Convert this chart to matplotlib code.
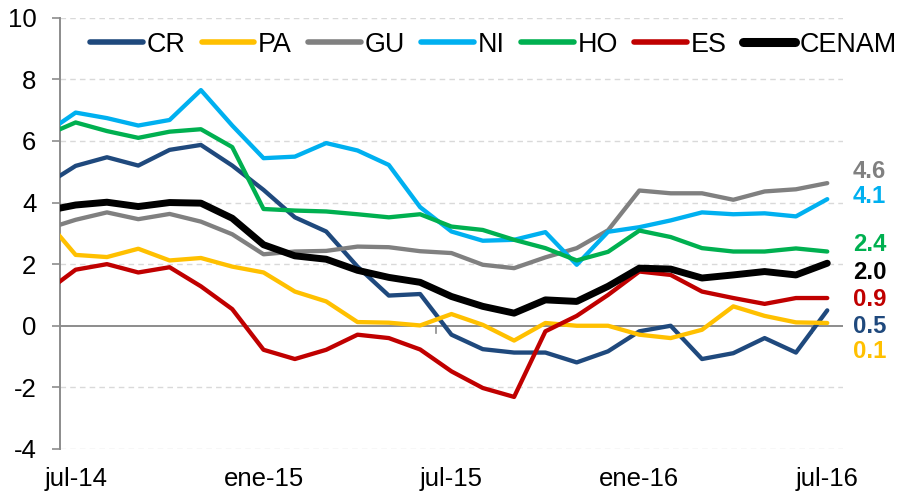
import matplotlib
matplotlib.use("Agg")
import matplotlib.pyplot as plt
import numpy as np

# ---------------- data ----------------
months = ["jun-14", "jul-14", "ago-14", "sep-14", "oct-14", "nov-14", "dic-14",
          "ene-15", "feb-15", "mar-15", "abr-15", "may-15", "jun-15",
          "jul-15", "ago-15", "sep-15", "oct-15", "nov-15", "dic-15",
          "ene-16", "feb-16", "mar-16", "abr-16", "may-16", "jun-16", "jul-16"]
tick_labels = ["jul-14", "ene-15", "jul-15", "ene-16", "jul-16"]

CR = [4.55, 5.19, 5.47, 5.20, 5.71, 5.87, 5.20, 4.41, 3.52, 3.06, 1.92, 0.98, 1.03,
      -0.29, -0.76, -0.87, -0.87, -1.19, -0.83, -0.18, 0.00, -1.08, -0.89, -0.40, -0.87, 0.50]
PA = [3.50, 2.30, 2.23, 2.50, 2.12, 2.20, 1.92, 1.73, 1.11, 0.79, 0.12, 0.10, 0.01,
      0.38, 0.03, -0.48, 0.09, 0.00, 0.00, -0.29, -0.40, -0.13, 0.63, 0.32, 0.11, 0.09]
GU = [3.12, 3.44, 3.68, 3.46, 3.63, 3.38, 2.97, 2.32, 2.41, 2.43, 2.57, 2.55, 2.42,
      2.36, 1.98, 1.87, 2.22, 2.52, 3.10, 4.39, 4.30, 4.30, 4.09, 4.36, 4.43, 4.63]
NI = [6.22, 6.92, 6.74, 6.50, 6.68, 7.65, 6.50, 5.44, 5.49, 5.93, 5.69, 5.22, 3.85,
      3.06, 2.76, 2.79, 3.04, 1.98, 3.05, 3.20, 3.42, 3.68, 3.62, 3.65, 3.55, 4.11]
HO = [6.16, 6.60, 6.32, 6.10, 6.30, 6.38, 5.80, 3.79, 3.74, 3.71, 3.62, 3.52, 3.62,
      3.22, 3.11, 2.79, 2.52, 2.12, 2.40, 3.09, 2.88, 2.52, 2.41, 2.41, 2.51, 2.41]
ES = [1.06, 1.82, 2.00, 1.73, 1.90, 1.28, 0.54, -0.78, -1.08, -0.78, -0.29, -0.40, -0.77,
      -1.48, -2.02, -2.31, -0.18, 0.32, 1.00, 1.76, 1.65, 1.11, 0.90, 0.71, 0.90, 0.90]
CENAM = [3.72, 3.92, 4.01, 3.87, 4.00, 3.98, 3.49, 2.63, 2.27, 2.16, 1.80, 1.57, 1.41,
         0.95, 0.63, 0.41, 0.84, 0.79, 1.28, 1.87, 1.84, 1.55, 1.65, 1.76, 1.65, 2.03]

names = ["CR", "PA", "GU", "NI", "HO", "ES", "CENAM"]
series = [CR, PA, GU, NI, HO, ES, CENAM]
colors = ["#1F497D", "#FFC000", "#808080", "#00B0F0", "#00B050", "#C00000", "#000000"]

# end-label layout (order and vertical positions, data units)
label_order = ["GU", "NI", "HO", "CENAM", "ES", "CR", "PA"]
label_y = [5.00, 4.19, 2.63, 1.73, 0.84, -0.02, -0.84]

# ---------------- plot ----------------
plt.rcParams["font.family"] = ["Liberation Sans", "DejaVu Sans"]

fig = plt.figure(figsize=(9.02, 4.96), dpi=100)
ax = fig.add_axes([0.0665, 0.0948, 0.868, 0.8695])

x = np.arange(len(months)) - 1  # jul-14 -> 0

for i, (name, vals, col) in enumerate(zip(names, series, colors)):
    lw = 5.0 if name == "CENAM" else 3.1
    ax.plot(x, vals, color=col, lw=lw, label=name, zorder=3 + i,
            solid_joinstyle="round", solid_capstyle="round")

ax.set_xlim(-0.5, 24.5)
ax.set_ylim(-4, 10)

# grid
for yv in [-4, -2, 2, 4, 6, 8, 10]:
    ax.axhline(yv, color="#D9D9D9", lw=1.0, ls=(0, (4, 3)), zorder=1)
ax.axhline(0, color="#8C8C8C", lw=1.4, zorder=2)

# spines
for s in ["top", "right", "bottom"]:
    ax.spines[s].set_visible(False)
ax.spines["left"].set_color("#8C8C8C")
ax.spines["left"].set_linewidth(1.4)

ax.set_yticks(np.arange(-4, 11, 2))
ax.set_yticklabels([str(v) for v in range(-4, 11, 2)])
ax.tick_params(axis="y", length=6, width=1.2, color="#8C8C8C", pad=11,
               labelsize=18.5, labelcolor="black")

tick_idx = [months.index(t) - 1 for t in tick_labels]
ax.set_xticks(tick_idx)
ax.set_xticklabels(tick_labels)
ax.tick_params(axis="x", length=0, pad=13, labelsize=18.5, labelcolor="black")

# small tick marks on the zero line
for tx in [11.5, 23.5]:
    ax.plot([tx, tx], [0, -0.22], color="#8C8C8C", lw=1.2, zorder=2,
            clip_on=False)

# legend
leg = ax.legend(loc="center left", bbox_to_anchor=(0.0383, 0.937), ncol=7,
                frameon=False, fontsize=19.4, handlelength=1.95,
                handletextpad=0.15, columnspacing=0.6, borderpad=0,
                borderaxespad=0)
for h, name in zip(leg.get_lines(), names):
    h.set_linewidth(6.5 if name == "CENAM" else 4.0)
    h.set_solid_capstyle("round")

# end labels
trans = matplotlib.transforms.blended_transform_factory(ax.transAxes, ax.transData)
for name, ly in zip(label_order, label_y):
    k = names.index(name)
    ax.text(1.0128, ly, f"{series[k][-1]:.1f}", transform=trans, ha="left",
            va="center", fontsize=17.2, fontweight="bold", color=colors[k],
            clip_on=False)

fig.savefig("out.png", dpi=100)
